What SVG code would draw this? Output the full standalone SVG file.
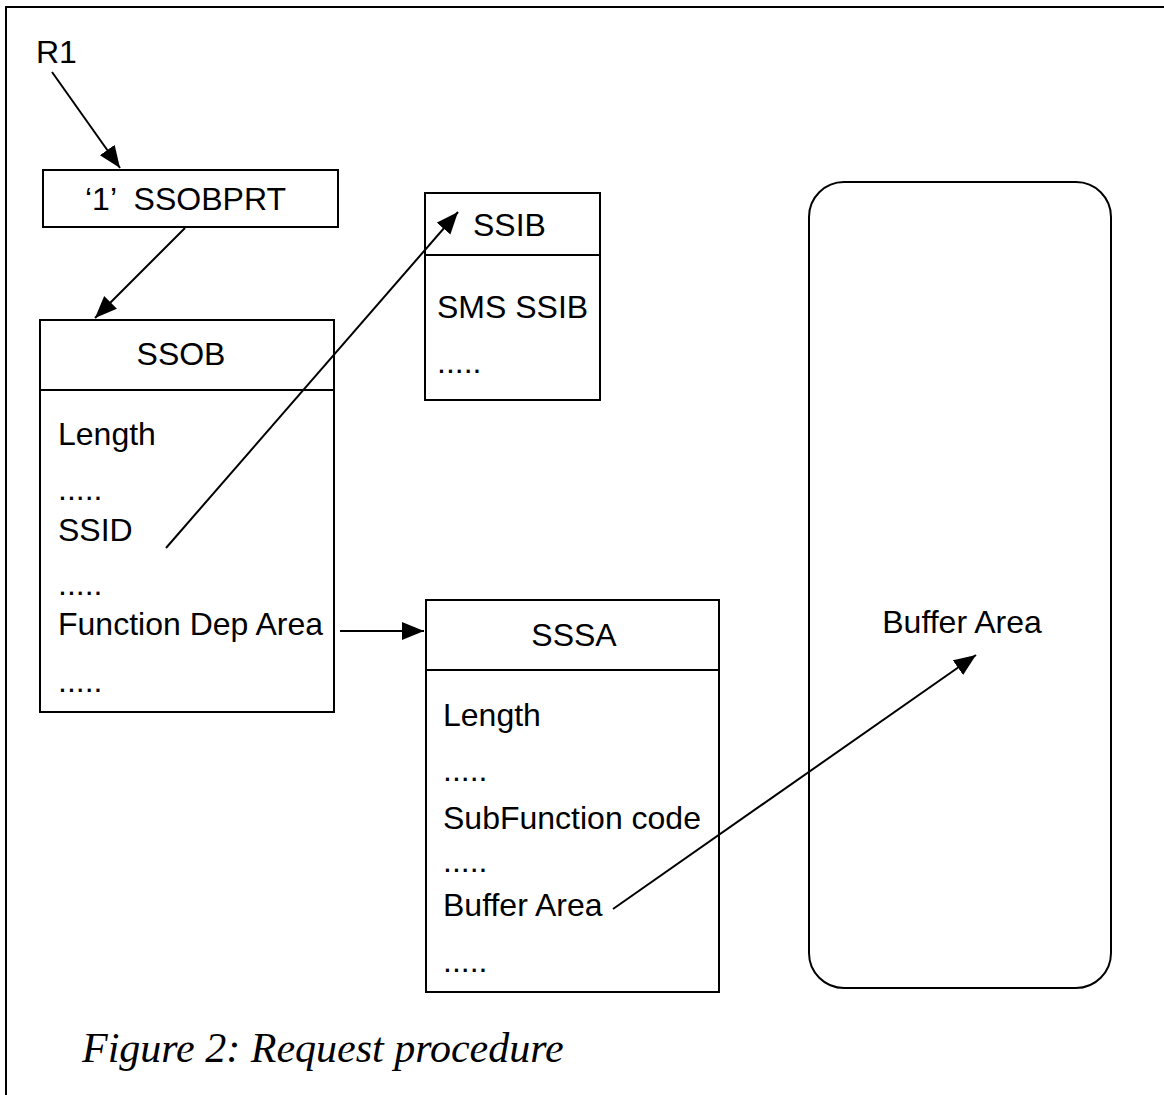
<svg xmlns="http://www.w3.org/2000/svg" width="1164" height="1095" viewBox="0 0 1164 1095">
<defs>
<style>
.box{fill:#fff;stroke:#000;stroke-width:2}
.t{font-family:"Liberation Sans",Arial,sans-serif;font-size:32px;fill:#000}
.m{text-anchor:middle}
.c{stroke:#000;stroke-width:2;fill:none;marker-end:url(#ah)}
.cap{font-family:"Liberation Serif","Times New Roman",serif;font-style:italic;font-size:42px;fill:#000}
</style>
<marker id="ah" markerUnits="userSpaceOnUse" markerWidth="24" markerHeight="20" refX="22" refY="9" orient="auto">
<path d="M0,0 L22,9 L0,18 Z" fill="#000"/>
</marker>
</defs>
<rect width="1164" height="1095" fill="#fff"/>
<path d="M6,1095 V7 H1164" fill="none" stroke="#000" stroke-width="2"/>

<g id="r1">
<text class="t" x="36" y="63" font-size="29">R1</text>
</g>

<g id="ssobprt">
<rect class="box" x="43" y="170" width="295" height="57"/>
<text class="t" x="85" y="210" xml:space="preserve">‘1’  SSOBPRT</text>
</g>

<g id="ssob">
<rect class="box" x="40" y="320" width="294" height="392"/>
<line x1="40" y1="390" x2="334" y2="390" stroke="#000" stroke-width="2"/>
<text class="t m" x="181" y="365">SSOB</text>
<text class="t" x="58" y="445">Length</text>
<text class="t" x="58" y="500">.....</text>
<text class="t" x="58" y="541">SSID</text>
<text class="t" x="58" y="595">.....</text>
<text class="t" x="58" y="635">Function Dep Area</text>
<text class="t" x="58" y="692">.....</text>
</g>

<g id="ssib">
<rect class="box" x="425" y="193" width="175" height="207"/>
<line x1="425" y1="255" x2="600" y2="255" stroke="#000" stroke-width="2"/>
<text class="t" x="473" y="236">SSIB</text>
<text class="t" x="437" y="318">SMS SSIB</text>
<text class="t" x="437" y="373">.....</text>
</g>

<g id="sssa">
<rect class="box" x="426" y="600" width="293" height="392"/>
<line x1="426" y1="670" x2="719" y2="670" stroke="#000" stroke-width="2"/>
<text class="t m" x="574" y="646">SSSA</text>
<text class="t" x="443" y="726">Length</text>
<text class="t" x="443" y="781">.....</text>
<text class="t" x="443" y="829">SubFunction code</text>
<text class="t" x="443" y="872">.....</text>
<text class="t" x="443" y="916">Buffer Area</text>
<text class="t" x="443" y="972">.....</text>
</g>

<g id="buffer">
<rect class="box" x="809" y="182" width="302" height="806" rx="35" ry="35"/>
<text class="t m" x="962" y="633">Buffer Area</text>
</g>

<g id="connectors">
<line class="c" x1="52" y1="72" x2="120" y2="168"/>
<line class="c" x1="185" y1="228" x2="95" y2="318"/>
<line class="c" x1="166" y1="548" x2="458" y2="212"/>
<line class="c" x1="340" y1="631" x2="424" y2="631"/>
<line class="c" x1="613" y1="909" x2="976" y2="655"/>
</g>

<g id="caption">
<text class="cap" x="82" y="1062">Figure 2: Request procedure</text>
</g>
</svg>
